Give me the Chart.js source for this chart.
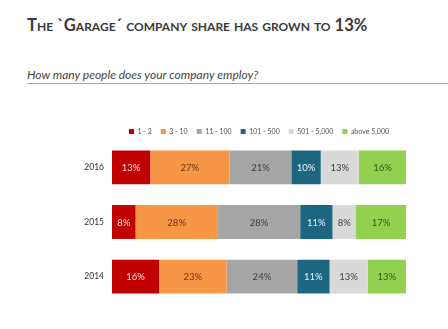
<!DOCTYPE html>
<html>
<head>
<meta charset="utf-8">
<script src="https://cdn.jsdelivr.net/npm/chart.js@4/dist/chart.umd.min.js"></script>
<style>
  body { margin: 0; background: #fff; width: 448px; height: 329px; overflow: hidden; position: relative; font-family: Lato, "Open Sans", sans-serif; }
  #title { position: absolute; left: 27px; top: 15px; font-size: 16.6px; font-weight: bold; font-variant: small-caps; color: #3a3a3a; white-space: nowrap; }
  #subtitle { position: absolute; left: 27px; top: 67px; width: 421px; font-size: 12px; font-style: italic; color: #444; padding-bottom: 1px; border-bottom: 1px solid #aaa; }
  #wrap { position: absolute; left: 0; top: 117px; width: 448px; height: 212px; }
</style>
</head>
<body>
<div id="title">The `Garage´ company share has grown to 13%</div>
<div id="subtitle">How many people does your company employ?</div>
<div id="wrap"><canvas id="chart"></canvas></div>
<script>
  const years = ["2016", "2015", "2014"];
  const sizes = ["1 - 2", "3 - 10", "11 - 100", "101 - 500", "501 - 5,000", "above 5,000"];
  const share1to2 = [13, 8, 16];
  const share3to10 = [27, 28, 23];
  const share11to100 = [21, 28, 24];
  const share101to500 = [10, 11, 11];
  const share501to5000 = [13, 8, 13];
  const shareAbove5000 = [16, 17, 13];

  const series = [share1to2, share3to10, share11to100, share101to500, share501to5000, shareAbove5000];
  const fills = ["#c00000", "#f79646", "#a6a6a6", "#1d6681", "#d9d9d9", "#92d050"];
  const labelColors = ["#fbe0e0", "#6b3510", "#3f3f3f", "#e6f4f8", "#3f3f3f", "#2e5a12"];

  // percent text inside each segment
  const segmentLabels = {
    id: "segmentLabels",
    afterDatasetsDraw(chart) {
      const ctx = chart.ctx;
      ctx.save();
      ctx.font = "9.5px Lato, 'Open Sans', sans-serif";
      ctx.textAlign = "center";
      ctx.textBaseline = "middle";
      chart.data.datasets.forEach((ds, i) => {
        const meta = chart.getDatasetMeta(i);
        meta.data.forEach((bar, j) => {
          const p = bar.getProps(["x", "y", "base"], true);
          ctx.fillStyle = labelColors[i];
          ctx.fillText(ds.data[j] + "%", (p.x + p.base) / 2, p.y + 0.5);
        });
      });
      ctx.restore();
    },
  };

  // legend sits close to the bars, trim its bottom gap
  const tightLegend = {
    id: "tightLegend",
    beforeUpdate(chart) {
      const legend = chart.legend;
      if (!legend || legend._tight) return;
      const fit = legend.fit;
      legend.fit = function () {
        fit.call(this);
        this.height -= 5;
      };
      legend._tight = true;
    },
  };

  new Chart(document.getElementById("chart"), {
    type: "bar",
    data: {
      labels: years,
      datasets: sizes.map((s, i) => ({
        label: s,
        data: series[i],
        backgroundColor: fills[i],
        borderWidth: 0,
        categoryPercentage: 0.62,
        barPercentage: 1,
      })),
    },
    options: {
      indexAxis: "y",
      responsive: true,
      maintainAspectRatio: false,
      animation: false,
      layout: { padding: { left: 0, right: 42, top: 2, bottom: 25 } },
      scales: {
        x: { stacked: true, min: 0, max: 100, display: false },
        y: {
          stacked: true,
          grid: { display: false, drawTicks: false },
          border: { display: false },
          ticks: { color: "#333", font: { size: 8.5, family: "Lato, 'Open Sans', sans-serif" }, padding: 8 },
          afterFit: (scale) => { scale.width = 112; },
        },
      },
      plugins: {
        legend: {
          position: "top",
          fullSize: false,
          labels: {
            boxWidth: 5,
            boxHeight: 5,
            padding: 9,
            color: "#555",
            font: { size: 7, family: "Lato, 'Open Sans', sans-serif" },
          },
        },
        tooltip: { enabled: false },
      },
    },
    plugins: [segmentLabels, tightLegend],
  });
</script>
</body>
</html>
